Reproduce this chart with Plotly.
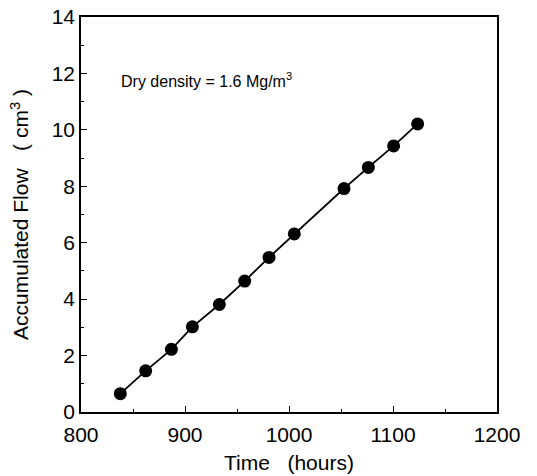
import plotly.graph_objects as go

# Accumulated flow measurements over time
time_hours = [837.8, 862.2, 886.9, 907.1, 933.0, 957.4, 980.8, 1005.1, 1052.9, 1076.3, 1100.6, 1123.7]
accum_flow = [0.65, 1.46, 2.22, 3.02, 3.81, 4.64, 5.48, 6.31, 7.92, 8.67, 9.43, 10.21]

x_ticks = [800, 900, 1000, 1100, 1200]
y_ticks = [0, 2, 4, 6, 8, 10, 12, 14]

font_family = "Liberation Sans, Arial, sans-serif"

fig = go.Figure()
fig.add_trace(go.Scatter(
    x=time_hours, y=accum_flow,
    mode="lines+markers",
    line=dict(color="black", width=1.8),
    marker=dict(color="black", size=13),
    showlegend=False,
))

axis_common = dict(
    showline=True, linecolor="black", linewidth=1.5, mirror=True,
    ticks="inside", ticklen=6, tickwidth=1.2, tickcolor="black",
    showgrid=False, zeroline=False, automargin=False,
    tickfont=dict(family=font_family, size=21, color="black"),
)

fig.update_xaxes(
    range=[800, 1200], tickvals=x_ticks,
    minor=dict(ticks="inside", ticklen=3, tickwidth=1, tickcolor="black", dtick=50),
    ticklabelstandoff=3,
    title=dict(text="Time   (hours)", font=dict(family=font_family, size=21, color="black"), standoff=10),
    **axis_common,
)
fig.update_yaxes(
    range=[0, 14], tickvals=y_ticks,
    minor=dict(ticks="inside", ticklen=3, tickwidth=1, tickcolor="black", dtick=1),
    title=dict(text="Accumulated Flow   ( cm<sup>3</sup> )", font=dict(family=font_family, size=21, color="black"), standoff=17),
    **axis_common,
)

fig.add_annotation(
    x=836.8, y=11.77, xref="x", yref="y",
    text="Dry density = 1.6 Mg/m<sup>3</sup>",
    showarrow=False, xanchor="left", yanchor="middle",
    font=dict(family=font_family, size=16, color="black"),
)

fig.update_layout(
    width=537, height=476,
    margin=dict(l=81, r=40, t=17, b=64),
    paper_bgcolor="white", plot_bgcolor="white",
)

fig.write_html("out.html")
